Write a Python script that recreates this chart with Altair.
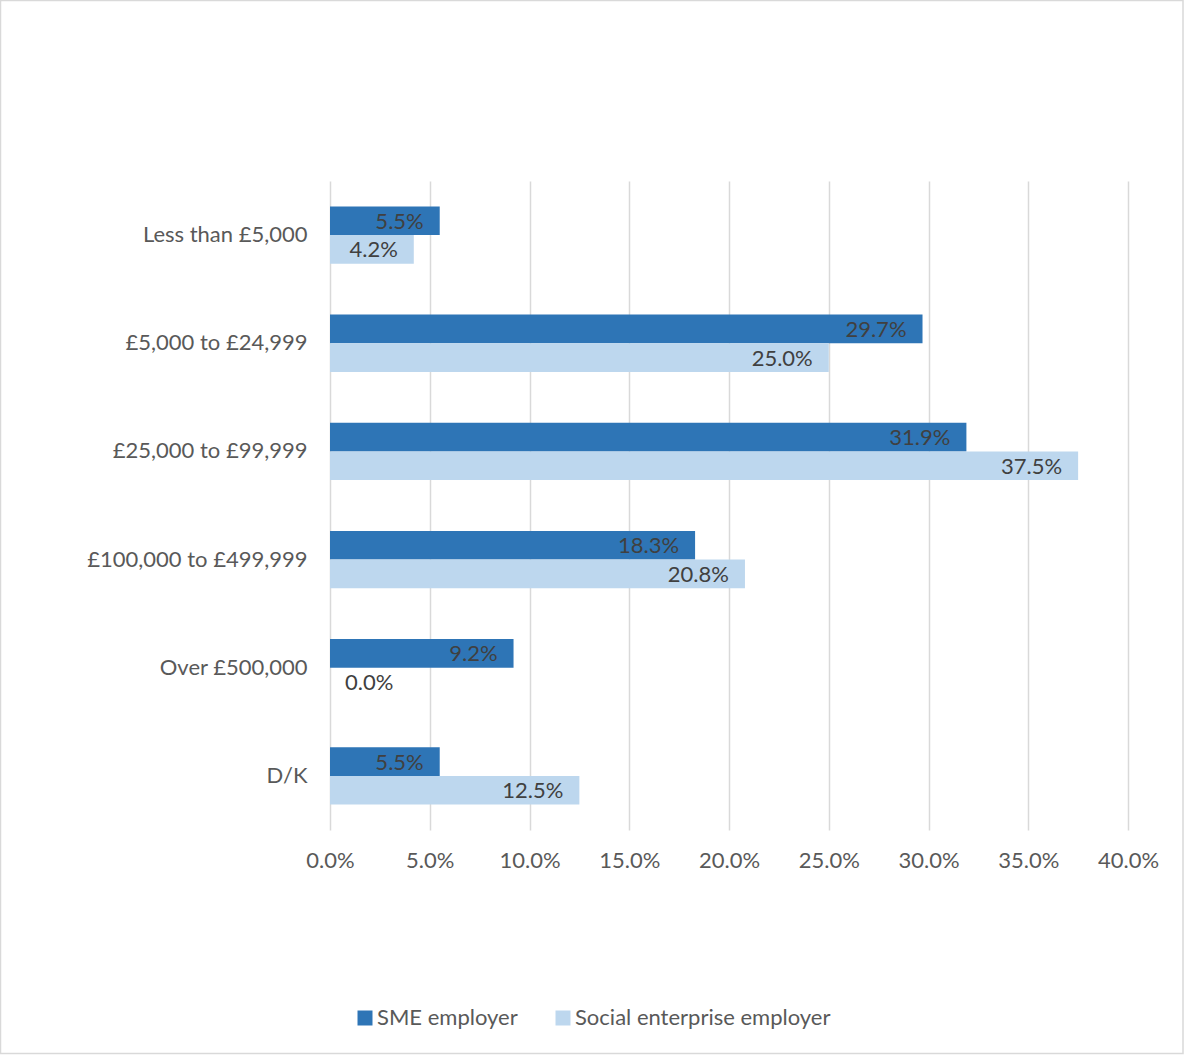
import altair as alt
import pandas as pd

categories = ["Less than £5,000", "£5,000 to £24,999", "£25,000 to £99,999",
              "£100,000 to £499,999", "Over £500,000", "D/K"]
series_names = ["SME employer", "Social enterprise employer"]
sme = [5.5, 29.7, 31.9, 18.3, 9.2, 5.5]
social = [4.2, 25.0, 37.5, 20.8, 0.0, 12.5]
x_ticks = [0, 5, 10, 15, 20, 25, 30, 35, 40]
colors = ["#2E75B6", "#BDD7EE"]

rows = []
for c, a, b in zip(categories, sme, social):
    rows.append({"category": c, "series": series_names[0], "value": a})
    rows.append({"category": c, "series": series_names[1], "value": b})
df = pd.DataFrame(rows)

FONT = "Lato"
FS = 22

y_enc = alt.Y("category:N", sort=categories,
              scale=alt.Scale(paddingInner=0.47, paddingOuter=0.235),
              axis=alt.Axis(title=None, ticks=False, domain=False, grid=False,
                            labelPadding=23, labelFontSize=FS, labelColor="#595959",
                            labelFont=FONT, labelLimit=0))
yoff = alt.YOffset("series:N", sort=series_names,
                   scale=alt.Scale(domain=series_names, paddingInner=0, paddingOuter=0))
x_scale = alt.Scale(domain=[0, 40], nice=False)

base = alt.Chart(df)

bars = base.mark_bar(strokeWidth=0).encode(
    y=y_enc,
    yOffset=yoff,
    x=alt.X("value:Q", scale=x_scale,
            axis=alt.Axis(title=None, values=x_ticks, ticks=False, domain=False,
                          grid=True, gridColor="#D9D9D9", gridWidth=1.5,
                          labelExpr="format(datum.value, '.1f') + '%'",
                          labelFlush=False, labelOverlap=False,
                          labelPadding=20, labelFontSize=FS, labelColor="#595959",
                          labelFont=FONT)),
    color=alt.Color("series:N", sort=series_names,
                    scale=alt.Scale(domain=series_names, range=colors),
                    legend=alt.Legend(title=None, orient="none", direction="horizontal",
                                      legendX=24, legendY=826, symbolType="square",
                                      symbolSize=225, symbolStrokeWidth=0,
                                      labelFontSize=FS, labelColor="#595959",
                                      labelFont=FONT, labelOffset=1, labelLimit=0,
                                      columnPadding=34)),
)

labels_pos = base.transform_filter("datum.value > 0").transform_calculate(
    label="format(datum.value, '.1f') + '%'"
).mark_text(align="right", baseline="middle", dx=-16, dy=1, fontSize=FS,
            color="#404040", font=FONT).encode(
    y=alt.Y("category:N", sort=categories),
    yOffset=yoff,
    x=alt.X("value:Q", scale=x_scale),
    text="label:N",
)

labels_zero = base.transform_filter("datum.value == 0").transform_calculate(
    label="format(datum.value, '.1f') + '%'"
).mark_text(align="left", baseline="middle", dx=15, dy=1, fontSize=FS,
            color="#404040", font=FONT).encode(
    y=alt.Y("category:N", sort=categories),
    yOffset=yoff,
    x=alt.X("value:Q", scale=x_scale),
    text="label:N",
)

border = alt.Chart(pd.DataFrame({"k": [0]})).mark_rect(
    filled=False, stroke="#D9D9D9", strokeWidth=1.5
).encode(
    x=alt.value(-329.5), x2=alt.value(853), y=alt.value(-180.5), y2=alt.value(872.5)
)

chart = alt.layer(bars, labels_pos, labels_zero, border).properties(
    width=798, height=649,
    padding={"left": 330, "top": 181, "right": 56, "bottom": 225},
    autosize=alt.AutoSizeParams(type="none"),
    background="white",
).configure_view(stroke=None)

chart.save("out.html", embed_options={"renderer": "svg", "actions": False})
